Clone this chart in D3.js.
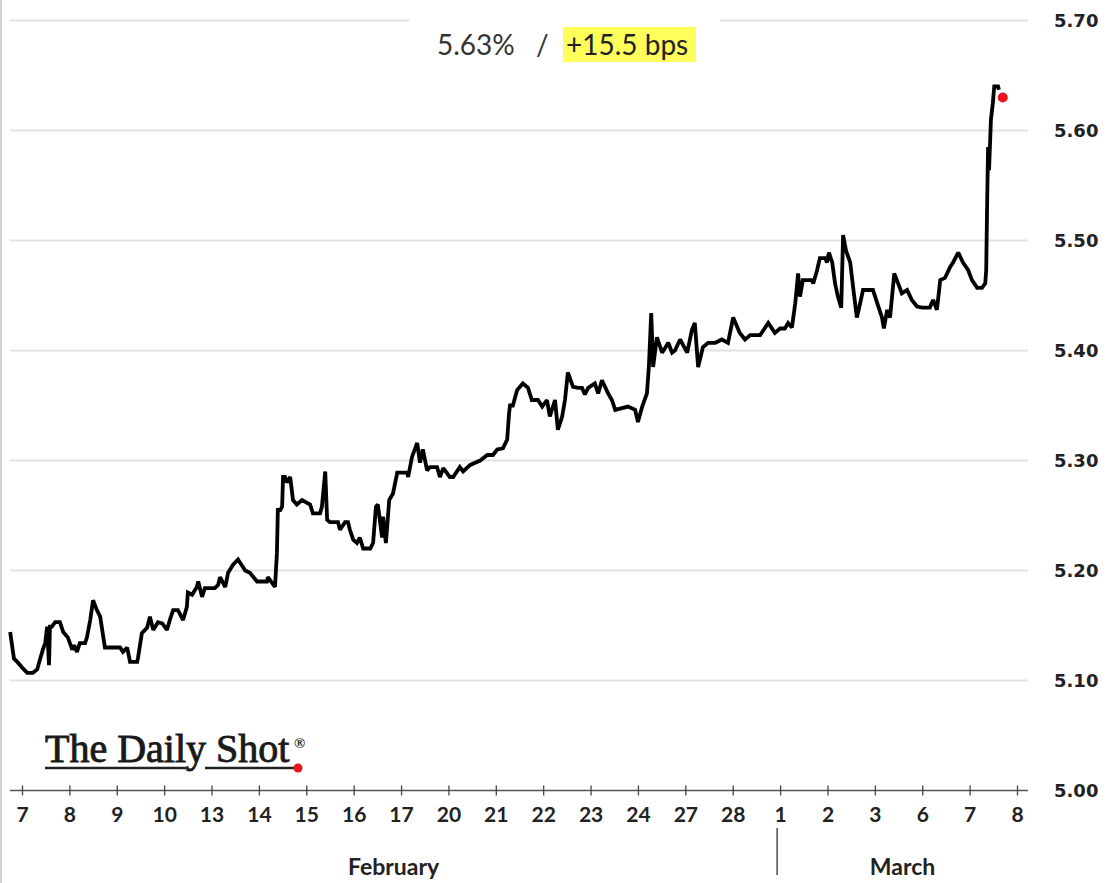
<!DOCTYPE html>
<html>
<head>
<meta charset="utf-8" />
<title>Yield</title>
<script src="https://cdn.jsdelivr.net/npm/d3@7/dist/d3.min.js"></script>
<style>
body{margin:0;background:#fff;}
svg{display:block;}
</style>
</head>
<body>
<svg id="chart" width="1106" height="883"></svg>
<script>
// trading-day labels on the x axis (index = trading day)
var dayLabels = ["7","8","9","10","13","14","15","16","17","20","21","22","23","24","27","28","1","2","3","6","7","8"];
var monthNames = ["February","March"];
var monthStart = [null, 16]; // March starts at trading day 16
var yTicks = [5.00,5.10,5.20,5.30,5.40,5.50,5.60,5.70];
var lastValue = 5.63, lastTime = 20.70;
var changeBps = 15.5;

// [trading day, yield %]
var series = [
[-0.25,5.144],[-0.17,5.120],[-0.08,5.116],[0.02,5.111],[0.11,5.107],[0.23,5.107],[0.32,5.110],[0.38,5.119],
[0.44,5.128],[0.49,5.134],[0.53,5.149],[0.57,5.114],[0.59,5.149],[0.63,5.149],[0.70,5.153],[0.80,5.153],
[0.87,5.144],[0.97,5.139],[1.06,5.128],[1.10,5.132],[1.16,5.126],[1.22,5.134],[1.33,5.134],[1.37,5.139],
[1.44,5.155],[1.50,5.173],[1.58,5.164],[1.65,5.158],[1.75,5.130],[1.82,5.130],[2.03,5.130],[2.07,5.130],
[2.13,5.126],[2.22,5.130],[2.28,5.117],[2.43,5.117],[2.45,5.121],[2.53,5.143],[2.64,5.148],[2.70,5.158],
[2.77,5.146],[2.87,5.153],[2.96,5.152],[3.06,5.146],[3.12,5.155],[3.19,5.164],[3.29,5.164],[3.40,5.155],
[3.48,5.167],[3.50,5.180],[3.59,5.178],[3.69,5.185],[3.72,5.190],[3.80,5.176],[3.86,5.184],[4.07,5.184],
[4.14,5.187],[4.18,5.194],[4.29,5.185],[4.35,5.198],[4.45,5.205],[4.56,5.210],[4.71,5.200],[4.81,5.198],
[4.96,5.190],[5.17,5.190],[5.19,5.194],[5.34,5.185],[5.38,5.216],[5.40,5.255],[5.45,5.255],[5.49,5.258],
[5.51,5.285],[5.55,5.285],[5.59,5.280],[5.66,5.285],[5.72,5.264],[5.80,5.260],[5.91,5.264],[6.08,5.260],
[6.14,5.252],[6.29,5.252],[6.33,5.258],[6.40,5.290],[6.44,5.246],[6.50,5.244],[6.67,5.244],[6.71,5.237],
[6.82,5.244],[6.88,5.244],[6.92,5.237],[6.99,5.228],[7.07,5.225],[7.13,5.230],[7.20,5.220],[7.35,5.220],
[7.41,5.225],[7.47,5.258],[7.51,5.260],[7.60,5.230],[7.62,5.249],[7.68,5.225],[7.75,5.264],[7.83,5.270],
[7.92,5.289],[8.13,5.289],[8.15,5.285],[8.23,5.303],[8.34,5.316],[8.40,5.298],[8.46,5.310],[8.55,5.291],
[8.61,5.294],[8.76,5.294],[8.82,5.285],[8.89,5.293],[9.03,5.285],[9.10,5.285],[9.24,5.294],[9.31,5.290],
[9.46,5.296],[9.67,5.300],[9.82,5.305],[9.94,5.305],[10.03,5.310],[10.15,5.311],[10.24,5.319],[10.28,5.343],
[10.30,5.350],[10.36,5.350],[10.45,5.364],[10.57,5.370],[10.68,5.366],[10.76,5.355],[10.89,5.355],[10.98,5.349],
[11.08,5.355],[11.14,5.340],[11.25,5.355],[11.31,5.328],[11.40,5.340],[11.46,5.355],[11.52,5.380],[11.63,5.367],
[11.74,5.366],[11.82,5.366],[11.88,5.360],[11.95,5.366],[12.09,5.370],[12.16,5.361],[12.24,5.373],[12.37,5.361],
[12.45,5.355],[12.52,5.346],[12.79,5.349],[12.94,5.346],[13.00,5.335],[13.09,5.349],[13.19,5.361],[13.23,5.385],
[13.28,5.434],[13.32,5.385],[13.40,5.412],[13.51,5.398],[13.64,5.407],[13.72,5.398],[13.78,5.400],[13.89,5.410],
[14.04,5.398],[14.14,5.419],[14.20,5.425],[14.27,5.385],[14.37,5.403],[14.48,5.407],[14.63,5.407],[14.77,5.410],
[14.90,5.407],[15.01,5.430],[15.15,5.416],[15.26,5.410],[15.37,5.414],[15.58,5.414],[15.75,5.425],[15.89,5.416],
[16.00,5.420],[16.10,5.420],[16.17,5.425],[16.25,5.421],[16.32,5.443],[16.38,5.470],[16.42,5.449],[16.48,5.464],
[16.67,5.464],[16.70,5.461],[16.78,5.473],[16.84,5.484],[16.95,5.484],[16.99,5.480],[17.03,5.489],[17.10,5.480],
[17.16,5.461],[17.22,5.449],[17.29,5.439],[17.33,5.505],[17.39,5.491],[17.48,5.480],[17.54,5.458],[17.62,5.430],
[17.69,5.443],[17.75,5.455],[17.96,5.455],[18.05,5.443],[18.15,5.430],[18.19,5.420],[18.26,5.437],[18.32,5.430],
[18.41,5.470],[18.49,5.461],[18.57,5.452],[18.68,5.455],[18.78,5.446],[18.89,5.440],[19.00,5.439],[19.16,5.439],
[19.23,5.446],[19.31,5.437],[19.38,5.464],[19.48,5.466],[19.59,5.476],[19.65,5.480],[19.76,5.489],[19.86,5.480],
[19.97,5.473],[20.05,5.464],[20.16,5.457],[20.26,5.457],[20.33,5.461],[20.35,5.473],[20.37,5.534],[20.39,5.585],
[20.41,5.564],[20.45,5.610],[20.49,5.625],[20.52,5.640],[20.60,5.640],[20.62,5.637]
];

var width = 1106, height = 883;
var left = 10, right = 1028;
var svg = d3.select("#chart");

var x = d3.scaleLinear().domain([0, dayLabels.length - 1]).range([22, 1017]);
var y = d3.scaleLinear().domain([5.0, 5.7]).range([790.5, 20.5]);

// left frame line
svg.append("line").attr("x1",1).attr("x2",1).attr("y1",0).attr("y2",height)
	.attr("stroke","#d4d4d4").attr("stroke-width",2);

// gridlines
svg.append("g").selectAll("line").data(yTicks.slice(1)).enter().append("line")
	.attr("x1",left).attr("x2",right)
	.attr("y1",function(d){return y(d);}).attr("y2",function(d){return y(d);})
	.attr("stroke","#e2e2e2").attr("stroke-width",2);
// gap in top gridline behind the title
svg.append("rect").attr("x",410).attr("y",y(5.7)-4).attr("width",310).attr("height",8).attr("fill","#fff");

// title
var title = svg.append("g").attr("font-family","Lato, 'Open Sans', sans-serif").attr("font-size",28).attr("fill","#333");
title.append("rect").attr("x",563).attr("y",27).attr("width",133).attr("height",35).attr("fill","#ffff5c");
title.append("text").attr("x",437).attr("y",55).text(lastValue.toFixed(2) + "%");
title.append("text").attr("x",536).attr("y",55).text("/");
title.append("text").attr("x",566).attr("y",55).attr("fill","#222").text((changeBps > 0 ? "+" : "") + changeBps.toFixed(1) + " bps");

// x axis
var xAxis = d3.axisBottom(x).tickValues(d3.range(dayLabels.length))
	.tickFormat(function(i){return dayLabels[i];}).tickSize(5).tickPadding(12);
var gx = svg.append("g").attr("transform","translate(0," + y(5.0) + ")").call(xAxis);
gx.select(".domain").remove();
gx.insert("line",":first-child").attr("x1",left).attr("x2",right).attr("stroke","#555").attr("stroke-width",1.6);
gx.selectAll(".tick line").attr("y1",-5).attr("y2",5).attr("stroke","#444").attr("stroke-width",1.3);
gx.selectAll(".tick text").attr("font-family","Lato, sans-serif").attr("font-weight","bold")
	.attr("font-size",21).attr("fill","#222");

// month labels and separator
var sepX = x(monthStart[1]) - 3;
svg.append("line").attr("x1",sepX).attr("x2",sepX).attr("y1",828).attr("y2",875)
	.attr("stroke","#333").attr("stroke-width",1.3);
var monthCenters = [(left + sepX) / 2, (sepX + right) / 2];
svg.append("g").selectAll("text").data(monthNames).enter().append("text")
	.attr("x",function(d,i){return monthCenters[i];}).attr("y",875)
	.attr("text-anchor","middle").attr("font-family","Lato, sans-serif").attr("font-weight","bold")
	.attr("font-size",23).attr("fill","#222").text(function(d){return d;});

// y axis labels on the right
var yAxis = d3.axisRight(y).tickValues(yTicks).tickFormat(d3.format(".2f")).tickSize(0).tickPadding(0);
var gy = svg.append("g").attr("transform","translate(1054,0)").call(yAxis);
gy.select(".domain").remove();
gy.selectAll(".tick text").attr("font-family","'DejaVu Sans', Verdana, sans-serif").attr("font-weight","bold")
	.attr("font-size",18).attr("fill","#222");

// logo
var logo = svg.append("g");
logo.append("text").attr("x",45).attr("y",762).attr("font-family","'Liberation Serif', 'DejaVu Serif', serif")
	.attr("font-size",40).attr("fill","#1a1a1a").attr("stroke","#1a1a1a").attr("stroke-width",0.9)
	.text("The Daily Shot");
logo.append("text").attr("x",294).attr("y",748).attr("font-family","'Liberation Serif', serif")
	.attr("font-size",15).attr("font-weight","bold").attr("fill","#222").text("\u00ae");
logo.append("line").attr("x1",45).attr("x2",187).attr("y1",768).attr("y2",768).attr("stroke","#222").attr("stroke-width",2.5);
logo.append("line").attr("x1",205).attr("x2",295).attr("y1",768).attr("y2",768).attr("stroke","#222").attr("stroke-width",2.5);
logo.append("circle").attr("cx",298).attr("cy",768).attr("r",4.5).attr("fill","#e8141b");

// the line
var line = d3.line().x(function(d){return x(d[0]);}).y(function(d){return y(d[1]);});
svg.append("path").datum(series).attr("d",line).attr("fill","none")
	.attr("stroke","#000").attr("stroke-width",3.8).attr("stroke-linejoin","miter").attr("stroke-miterlimit",2);

// last value marker
svg.append("circle").attr("cx",x(lastTime)).attr("cy",y(lastValue)).attr("r",5).attr("fill","#e8141b");
</script>
</body>
</html>
